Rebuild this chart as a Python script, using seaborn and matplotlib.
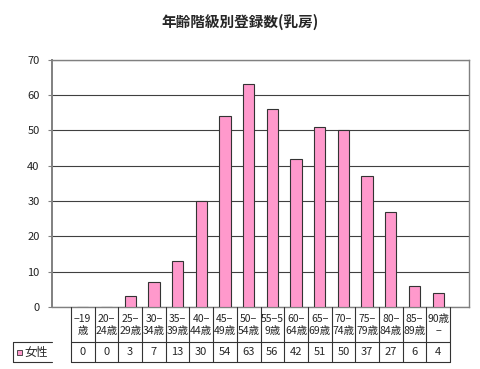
import matplotlib
matplotlib.use("Agg")
import matplotlib.pyplot as plt
import seaborn as sns

# data
age_groups = ["-19歳", "20-24歳", "25-29歳", "30-34歳", "35-39歳", "40-44歳", "45-49歳",
              "50-54歳", "55-59歳", "60-64歳", "65-69歳", "70-74歳", "75-79歳", "80-84歳",
              "85-89歳", "90歳-"]
# header text as it wraps in the data table
header_labels = ["−19\n歳", "20−\n24歳", "25−\n29歳", "30−\n34歳", "35−\n39歳", "40−\n44歳",
                 "45−\n49歳", "50−\n54歳", "55−5\n9歳", "60−\n64歳", "65−\n69歳", "70−\n74歳",
                 "75−\n79歳", "80−\n84歳", "85−\n89歳", "90歳\n−"]
female = [0, 0, 3, 7, 13, 30, 54, 63, 56, 42, 51, 50, 37, 27, 6, 4]
series_name = "女性"
title = "年齢階級別登録数(乳房)"

sns.set_style("white")
plt.rcParams['font.family'] = ['Noto Sans CJK JP', 'DejaVu Sans']

W, H = 480, 369
fig = plt.figure(figsize=(W / 100, H / 100), dpi=100)

def fx(px):
    return px / W

def fy(py):
    return 1 - py / H

left, right, top, bottom = 52, 469, 59.5, 307
ax = fig.add_axes([fx(left), fy(bottom), fx(right - left), (bottom - top) / H])

bar_color = "#FF99CC"
sns.barplot(x=age_groups, y=female, color=bar_color, saturation=1, edgecolor="#333333",
            linewidth=0.8, width=0.48, ax=ax, zorder=3)

ax.set_ylim(0, 70)
ax.set_yticks(range(0, 71, 10))
ax.yaxis.grid(True, color="#404040", linewidth=0.8, zorder=0)
ax.set_axisbelow(True)
ax.set_xlabel("")
ax.set_ylabel("")
ax.set_xticks([])
ax.tick_params(axis="y", labelsize=8, length=3, width=0.8, colors="#808080",
               labelcolor="#222222", pad=6, left=True)
for s in ["top", "right"]:
    ax.spines[s].set_color("#808080")
    ax.spines[s].set_linewidth(1.0)
ax.spines["left"].set_color("#808080")
ax.spines["left"].set_linewidth(1.4)
ax.spines["bottom"].set_color("#808080")
ax.spines["bottom"].set_linewidth(1.0)

fig.text(0.5, fy(22), title, ha="center", va="center", fontsize=10.5, fontweight="bold")

# data table below the plot
n = len(age_groups)
tab_bottom = 362
tab = fig.add_axes([fx(left), fy(tab_bottom), fx(right - left), (tab_bottom - bottom) / H], sharex=ax)
tab.set_ylim(tab_bottom - bottom, 0)
tab.axis("off")
row_split = 342 - bottom
line_kw = dict(color="#333333", linewidth=0.8, clip_on=False)
for i in range(n + 1):
    tab.plot([i - 0.5, i - 0.5], [0, tab_bottom - bottom], **line_kw)
tab.plot([-0.5, n - 0.5], [row_split, row_split], **line_kw)
tab.plot([-0.5, n - 0.5], [tab_bottom - bottom, tab_bottom - bottom], **line_kw)
for i, (lab, v) in enumerate(zip(header_labels, female)):
    tab.text(i, row_split / 2 + 0.5, lab, ha="center", va="center", fontsize=7.5,
             linespacing=1.15)
    tab.text(i, (row_split + tab_bottom - bottom) / 2, str(v), ha="center", va="center",
             fontsize=8)

# legend cell on the left of the value row
fl = 13
fig.add_artist(plt.Line2D([fx(fl), fx(left)], [fy(342), fy(342)], transform=fig.transFigure,
                          color="#333333", linewidth=0.8))
fig.add_artist(plt.Line2D([fx(fl), fx(left)], [fy(362), fy(362)], transform=fig.transFigure,
                          color="#333333", linewidth=0.8))
fig.add_artist(plt.Line2D([fx(fl), fx(fl)], [fy(342), fy(362)], transform=fig.transFigure,
                          color="#333333", linewidth=0.8))
fig.add_artist(plt.Rectangle((fx(16.5), fy(355)), fx(5), 5 / H, transform=fig.transFigure,
                             facecolor=bar_color, edgecolor="#333333", linewidth=0.6))
fig.text(fx(24), fy(352.5), series_name, ha="left", va="center", fontsize=8.5)

fig.savefig("out.png", dpi=100)
